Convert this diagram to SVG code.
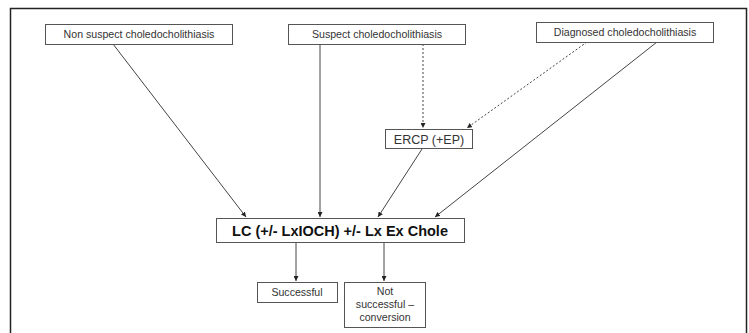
<svg xmlns="http://www.w3.org/2000/svg" width="749" height="333" viewBox="0 0 749 333">
<style>
.box{fill:#fff;stroke:#555;stroke-width:1}
.t{font-family:"Liberation Sans",Arial,sans-serif;font-size:10.6px;fill:#333;text-anchor:middle}
.big{font-family:"Liberation Sans",Arial,sans-serif;font-size:14.5px;font-weight:bold;fill:#111;text-anchor:middle}
.c{stroke:#444;stroke-width:1;fill:none;marker-end:url(#ah)}
.d{stroke-dasharray:2,2}
</style>
<defs>
<marker id="ah" viewBox="0 0 6 6" refX="6" refY="3" markerWidth="5" markerHeight="5" orient="auto" markerUnits="userSpaceOnUse">
<path d="M0,0 L6,3 L0,6 z" fill="#222"/>
</marker>
</defs>
<rect width="749" height="333" fill="#fff"/>
<path d="M10.5,340 V8.5 H746.5 V340" fill="none" stroke="#222" stroke-width="1.5"/>
<g id="connectors">
<line class="c" x1="113" y1="44" x2="246" y2="217"/>
<line class="c" x1="320" y1="44" x2="320" y2="217"/>
<line class="c d" x1="423" y1="44" x2="423" y2="128"/>
<line class="c d" x1="587" y1="42" x2="467" y2="128"/>
<line class="c" x1="422" y1="149" x2="378" y2="217"/>
<line class="c" x1="657" y1="42" x2="435" y2="217"/>
<line class="c" x1="296" y1="242" x2="296" y2="281"/>
<line class="c" x1="384" y1="242" x2="384" y2="281"/>
</g>
<g id="nonsuspect"><rect class="box" x="45.5" y="24.5" width="187" height="20"/><text class="t" x="139" y="38">Non suspect choledocholithiasis</text></g>
<g id="suspect"><rect class="box" x="288.5" y="24.5" width="177" height="20"/><text class="t" x="377" y="38">Suspect choledocholithiasis</text></g>
<g id="diagnosed"><rect class="box" x="536.5" y="22.5" width="177" height="20"/><text class="t" x="625" y="36">Diagnosed choledocholithiasis</text></g>
<g id="ercp"><rect class="box" x="385.5" y="129.5" width="87" height="19"/><text class="t" x="429" y="143.5" style="font-size:12.5px">ERCP (+EP)</text></g>
<g id="lc"><rect class="box" x="216.5" y="218.5" width="248" height="24"/><text class="big" x="340" y="236">LC (+/- LxIOCH) +/- Lx Ex Chole</text></g>
<g id="successful"><rect class="box" x="257.5" y="282.5" width="80" height="20"/><text class="t" x="297" y="296">Successful</text></g>
<g id="notsuccessful"><rect class="box" x="344.5" y="282.5" width="81" height="45"/><text class="t" x="385" y="295">Not</text><text class="t" x="385" y="308">successful –</text><text class="t" x="385" y="321">conversion</text></g>
</svg>
